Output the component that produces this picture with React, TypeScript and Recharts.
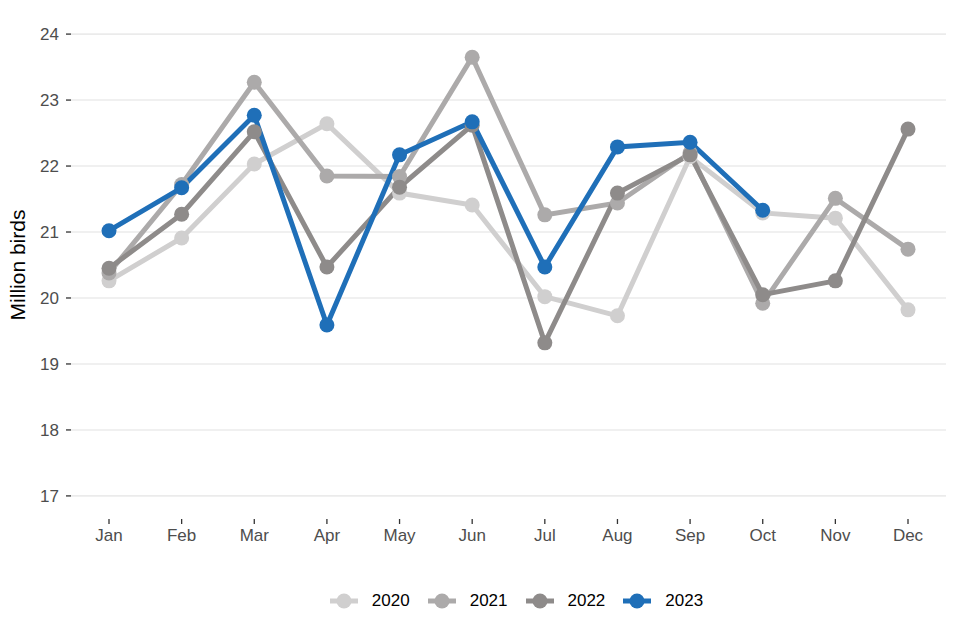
import { LineChart, Line, XAxis, YAxis, ReferenceLine, Legend } from 'recharts'

const months = ['Jan', 'Feb', 'Mar', 'Apr', 'May', 'Jun', 'Jul', 'Aug', 'Sep', 'Oct', 'Nov', 'Dec']
const y2020 = [20.26, 20.91, 22.03, 22.64, 21.59, 21.41, 20.02, 19.73, 22.14, 21.29, 21.21, 19.82]
const y2021 = [20.38, 21.72, 23.27, 21.85, 21.84, 23.65, 21.26, 21.44, 22.2, 19.92, 21.51, 20.74]
const y2022 = [20.45, 21.27, 22.52, 20.47, 21.68, 22.62, 19.32, 21.59, 22.17, 20.05, 20.26, 22.56]
const y2023 = [21.02, 21.67, 22.77, 19.59, 22.17, 22.67, 20.47, 22.29, 22.36, 21.33, null, null]
const yTicks = [17, 18, 19, 20, 21, 22, 23, 24]

const series = [
  { key: 'y2020', name: '2020', color: '#d0cfcf' },
  { key: 'y2021', name: '2021', color: '#acaaaa' },
  { key: 'y2022', name: '2022', color: '#8e8b8a' },
  { key: 'y2023', name: '2023', color: '#1f6fb8' },
]

const chartData = months.map((m, i) => ({
  month: m,
  y2020: y2020[i],
  y2021: y2021[i],
  y2022: y2022[i],
  y2023: y2023[i],
}))

function LegendContent() {
  return (
    <div style={{ display: 'flex', justifyContent: 'center', alignItems: 'center', fontSize: 17, color: '#000' }}>
      {series.map((s, i) => (
        <div key={s.key} style={{ display: 'flex', alignItems: 'center', marginRight: i < series.length - 1 ? 17 : 0 }}>
          <svg width={30} height={18}>
            <line x1={1} y1={9} x2={29} y2={9} stroke={s.color} strokeWidth={5} />
            <circle cx={15} cy={9} r={7.5} fill={s.color} />
          </svg>
          <span style={{ marginLeft: 13 }}>{s.name}</span>
        </div>
      ))}
    </div>
  )
}

export default function App() {
  return (
    <div style={{ position: 'absolute', left: 0, top: 0, fontFamily: '"Liberation Sans", Arial, sans-serif' }}>
      <LineChart width={960} height={640} data={chartData} margin={{ top: 11, right: 14, left: 0, bottom: 81 }}>
        <XAxis
          dataKey="month"
          padding={{ left: 38, right: 38 }}
          axisLine={false}
          tickLine={{ stroke: '#333', strokeWidth: 1.3 }}
          tickSize={5}
          tickMargin={5}
          height={40}
          tick={{ fill: '#4d4d4d', fontSize: 17 }}
        />
        <YAxis
          domain={[16.65, 24.35]}
          ticks={yTicks}
          width={71}
          axisLine={false}
          tickLine={{ stroke: '#333', strokeWidth: 1.3 }}
          tickSize={5}
          tickMargin={7}
          tick={{ fill: '#4d4d4d', fontSize: 17 }}
          label={{ value: 'Million birds', angle: -90, position: 'insideLeft', offset: 18, style: { fill: '#000', fontSize: 21, textAnchor: 'middle' } }}
        />
        {yTicks.map(t => (
          <ReferenceLine key={t} y={t} stroke="#ebebeb" strokeWidth={1.6} />
        ))}
        <Legend verticalAlign="middle" align="center" wrapperStyle={{ top: 591, left: 36, width: 960 }} content={<LegendContent />} />
        {series.map(s => (
          <Line
            key={s.key}
            dataKey={s.key}
            name={s.name}
            type="linear"
            stroke={s.color}
            strokeWidth={5}
            dot={{ r: 7.5, fill: s.color, stroke: 'none' }}
            activeDot={false}
            isAnimationActive={false}
          />
        ))}
      </LineChart>
    </div>
  )
}
